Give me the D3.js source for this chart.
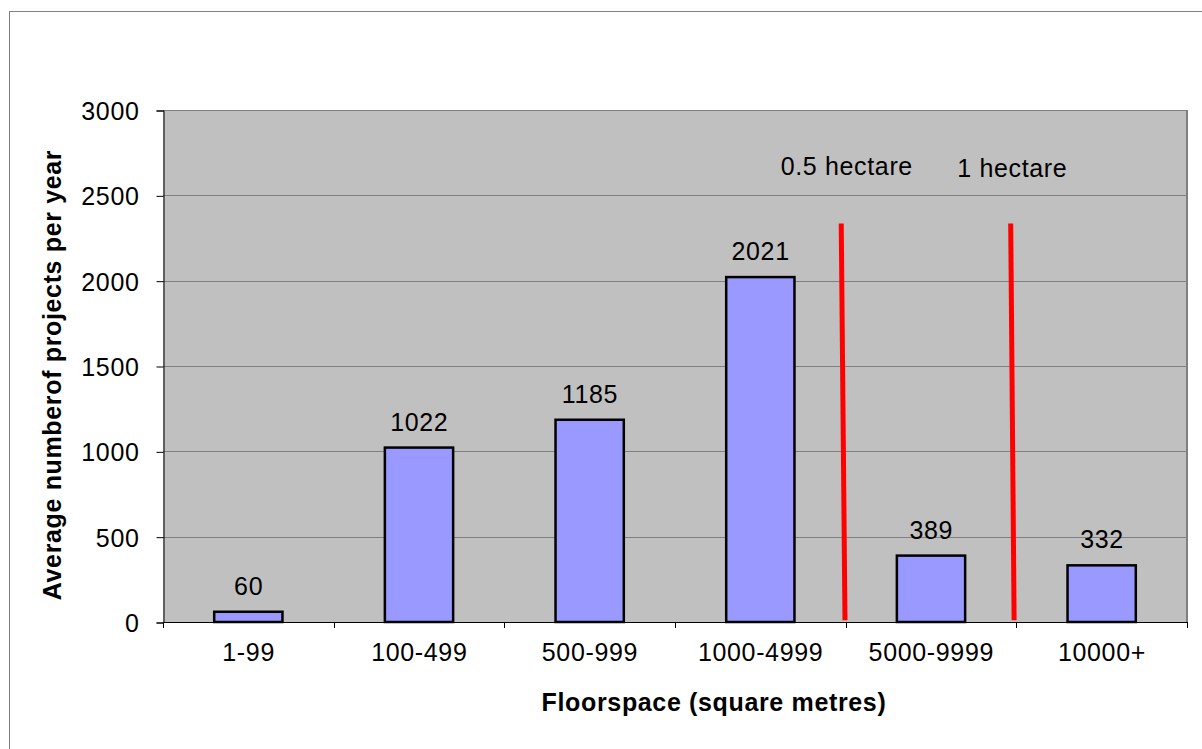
<!DOCTYPE html>
<html>
<head>
<meta charset="utf-8">
<script src="https://cdn.jsdelivr.net/npm/d3@7"></script>
<style>
  html, body { margin: 0; padding: 0; background: #ffffff; }
  svg { display: block; }
  text { font-family: "Liberation Sans", Arial, sans-serif; font-size: 25px; letter-spacing: 0.65px; fill: #000; }
</style>
</head>
<body>
<svg id="chart" width="1202" height="749"></svg>
<script>
// ---- data ----
const categories = ["1-99", "100-499", "500-999", "1000-4999", "5000-9999", "10000+"];
const values = [60, 1022, 1185, 2021, 389, 332];
const yTicks = [0, 500, 1000, 1500, 2000, 2500, 3000];
const markerLabels = ["0.5 hectare", "1 hectare"];
// marker positions in category units (0..6 across the axis), values in data units
const markerXBottom = [3.996, 4.987];
const markerXTop = [3.974, 4.967];
const markerYBottom = [10, 10];
const markerYTop = [2335, 2335];
const markerLabelX = [4.005, 4.975];
const markerLabelY = [2619, 2605];
const xTitle = "Floorspace (square metres)";
const yTitle = "Average numberof projects per year";

// ---- layout ----
const svg = d3.select("#chart");
const L = 163, R = 1187, T = 110, B = 622;

const x = d3.scaleBand().domain(categories).range([L, R]).paddingInner(0.6).paddingOuter(0.3);
const xPos = d3.scaleLinear().domain([0, categories.length]).range([L, R]);
const y = d3.scaleLinear().domain([0, 3000]).range([B, T]);

// outer frame
svg.append("rect").attr("x", 9.5).attr("y", 11.5).attr("width", 1400).attr("height", 1000)
  .attr("fill", "none").attr("stroke", "#808080").attr("stroke-width", 1);

// plot background
svg.append("rect").attr("x", L).attr("y", T).attr("width", R - L).attr("height", B - T)
  .attr("fill", "#C0C0C0");

// gridlines
svg.append("g").selectAll("line").data(yTicks.filter(d => d > 0)).join("line")
  .attr("x1", L).attr("x2", R)
  .attr("y1", d => Math.round(y(d)) + 0.5).attr("y2", d => Math.round(y(d)) + 0.5)
  .attr("stroke", "#808080").attr("stroke-width", 1);

// right border of plot area
svg.append("line").attr("x1", R).attr("x2", R).attr("y1", T).attr("y2", B)
  .attr("stroke", "#808080").attr("stroke-width", 2);

// bars
svg.append("g").selectAll("rect").data(values).join("rect")
  .attr("x", (d, i) => x(categories[i]))
  .attr("y", d => y(d))
  .attr("width", x.bandwidth())
  .attr("height", d => y(0) - y(d))
  .attr("fill", "#9999FF").attr("stroke", "#000").attr("stroke-width", 2.5);

// bar labels
svg.append("g").selectAll("text").data(values).join("text")
  .attr("x", (d, i) => x(categories[i]) + x.bandwidth() / 2 + 0.3)
  .attr("y", d => y(d) - 17)
  .attr("text-anchor", "middle")
  .text(d => d);

// red marker lines
svg.append("g").selectAll("line").data(markerLabels).join("line")
  .attr("x1", (d, i) => xPos(markerXBottom[i]))
  .attr("y1", (d, i) => y(markerYBottom[i]))
  .attr("x2", (d, i) => xPos(markerXTop[i]))
  .attr("y2", (d, i) => y(markerYTop[i]))
  .attr("stroke", "#FF0000").attr("stroke-width", 5);

svg.append("g").selectAll("text").data(markerLabels).join("text")
  .attr("x", (d, i) => xPos(markerLabelX[i]) + 0.3)
  .attr("y", (d, i) => y(markerLabelY[i]))
  .attr("text-anchor", "middle")
  .text(d => d);

// y axis
const yAxis = d3.axisLeft(y).tickValues(yTicks).tickSize(7).tickPadding(17).tickFormat(d3.format("d"));
const gy = svg.append("g").attr("transform", `translate(${L + 0.5},0.5)`).call(yAxis);
gy.select(".domain").attr("stroke", "#000");
gy.selectAll(".tick line").attr("stroke", "#000");
gy.selectAll(".tick text").attr("font-size", null).attr("font-family", null)
  .attr("dy", "0.36em").attr("x", -24);

// x axis baseline
svg.append("line").attr("x1", L).attr("x2", R).attr("y1", B + 0.5).attr("y2", B + 0.5)
  .attr("stroke", "#000").attr("stroke-width", 1);
// x axis ticks at category boundaries
svg.append("g").selectAll("line").data(d3.range(categories.length + 1)).join("line")
  .attr("x1", d => Math.round(xPos(d)) + 0.5).attr("x2", d => Math.round(xPos(d)) + 0.5)
  .attr("y1", B).attr("y2", B + 6)
  .attr("stroke", "#000").attr("stroke-width", 1);
// x labels
svg.append("g").selectAll("text").data(categories).join("text")
  .attr("x", d => x(d) + x.bandwidth() / 2 + 0.3)
  .attr("y", 661)
  .attr("text-anchor", "middle")
  .text(d => d);

// axis titles
svg.append("text").attr("x", 714).attr("y", 711).attr("text-anchor", "middle")
  .attr("font-weight", "bold").text(xTitle);
svg.append("text").attr("transform", "translate(61,375) rotate(-90)")
  .attr("text-anchor", "middle").attr("font-weight", "bold").text(yTitle);
</script>
</body>
</html>
